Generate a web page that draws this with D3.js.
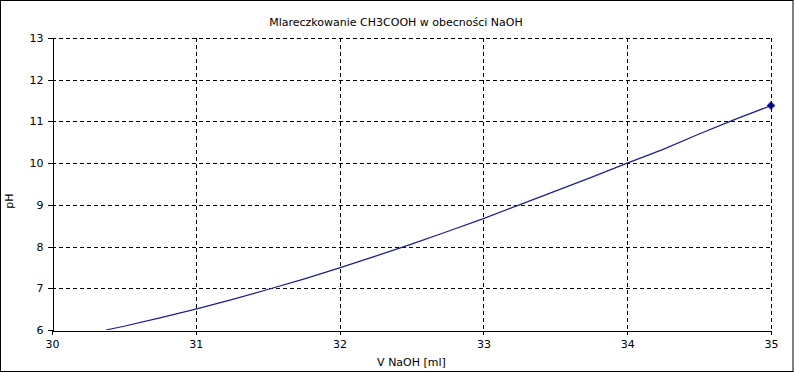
<!DOCTYPE html>
<html>
<head>
<meta charset="utf-8">
<script src="https://cdn.jsdelivr.net/npm/d3@7"></script>
<style>
  html, body { margin: 0; padding: 0; background: #fff; }
  svg { display: block; }
  text { font-family: "DejaVu Sans", sans-serif; font-size: 11px; fill: #000; }
</style>
</head>
<body>
<svg id="chart" width="795" height="373"></svg>
<script>
// ---- data ----
const volumes = [30.375, 30.5, 30.75, 31.0, 31.25, 31.5, 31.75, 32.0, 32.25, 32.5, 32.75, 33.0, 33.25, 33.5, 33.75, 34.0, 34.25, 34.5, 34.75, 35.0];
const phValues = [6.00, 6.09, 6.29, 6.50, 6.73, 6.97, 7.22, 7.49, 7.77, 8.06, 8.36, 8.67, 9.00, 9.33, 9.66, 10.00, 10.33, 10.70, 11.05, 11.38];
const xTicks = [30, 31, 32, 33, 34, 35];
const yTicks = [6, 7, 8, 9, 10, 11, 12, 13];
const titleText = "Mlareczkowanie CH3COOH w obecności NaOH";
const xLabel = "V NaOH [ml]";
const yLabel = "pH";

// ---- layout ----
const W = 795, H = 373;
const plot = { left: 52, right: 771, top: 38, bottom: 330 };
const svg = d3.select("#chart");

// outer frame
svg.append("rect").attr("x", 0.5).attr("y", 0.5).attr("width", 792.5).attr("height", 371)
  .attr("fill", "#fff").attr("stroke", "#000").attr("stroke-width", 1);

const x = d3.scaleLinear().domain([30, 35]).range([plot.left, plot.right]);
const y = d3.scaleLinear().domain([6, 13]).range([plot.bottom, plot.top]);

// grid
const grid = svg.append("g").attr("stroke", "#000").attr("stroke-width", 1)
  .attr("stroke-dasharray", "4,3").attr("shape-rendering", "crispEdges");
grid.selectAll("line.h").data(yTicks.filter(d => d !== 6)).join("line")
  .attr("x1", plot.left).attr("x2", plot.right)
  .attr("y1", d => Math.round(y(d)) + 0.5).attr("y2", d => Math.round(y(d)) + 0.5);
grid.selectAll("line.v").data(xTicks.filter(d => d !== 30)).join("line")
  .attr("y1", plot.top).attr("y2", plot.bottom)
  .attr("x1", d => Math.round(x(d)) + 0.5).attr("x2", d => Math.round(x(d)) + 0.5);

// axes
const xAxis = d3.axisBottom(x).tickValues(xTicks).tickFormat(d3.format("d")).tickSizeInner(4).tickSizeOuter(0).tickPadding(6);
const yAxis = d3.axisLeft(y).tickValues(yTicks).tickFormat(d3.format("d")).tickSizeInner(5).tickSizeOuter(0).tickPadding(4);

const gx = svg.append("g").attr("transform", `translate(0,${plot.bottom + 0.5})`).call(xAxis);
const gy = svg.append("g").attr("transform", `translate(${plot.left + 0.5},0)`).call(yAxis);
[gx, gy].forEach(g => {
  g.selectAll("path, line").attr("stroke", "#000").attr("shape-rendering", "crispEdges");
  g.selectAll("text").attr("font-family", "DejaVu Sans, sans-serif").attr("font-size", 11).attr("fill", "#000");
});

// clip
svg.append("clipPath").attr("id", "clip").append("rect")
  .attr("x", plot.left).attr("y", plot.top)
  .attr("width", plot.right - plot.left).attr("height", plot.bottom - plot.top);

const pts = volumes.map((v, i) => [v, phValues[i]]);
const line = d3.line().x(d => x(d[0])).y(d => y(d[1]));
svg.append("path").datum(pts).attr("d", line)
  .attr("fill", "none").attr("stroke", "#1c1c94").attr("stroke-width", 1.2)
  .attr("clip-path", "url(#clip)");

// end marker (diamond)
const last = pts[pts.length - 1];
svg.append("path")
  .attr("d", d3.symbol().type(d3.symbolDiamond2).size(40)())
  .attr("transform", `translate(${x(last[0])},${y(last[1])})`)
  .attr("fill", "#0a0a8a").attr("stroke", "#0a0a8a").attr("stroke-width", 0.5);

// titles
svg.append("text").attr("x", 396).attr("y", 26).attr("text-anchor", "middle").text(titleText);
svg.append("text").attr("x", (plot.left + plot.right) / 2).attr("y", 366).attr("text-anchor", "middle").text(xLabel);
svg.append("text").attr("transform", "translate(13,201) rotate(-90)").attr("text-anchor", "middle").text(yLabel);
</script>
</body>
</html>
